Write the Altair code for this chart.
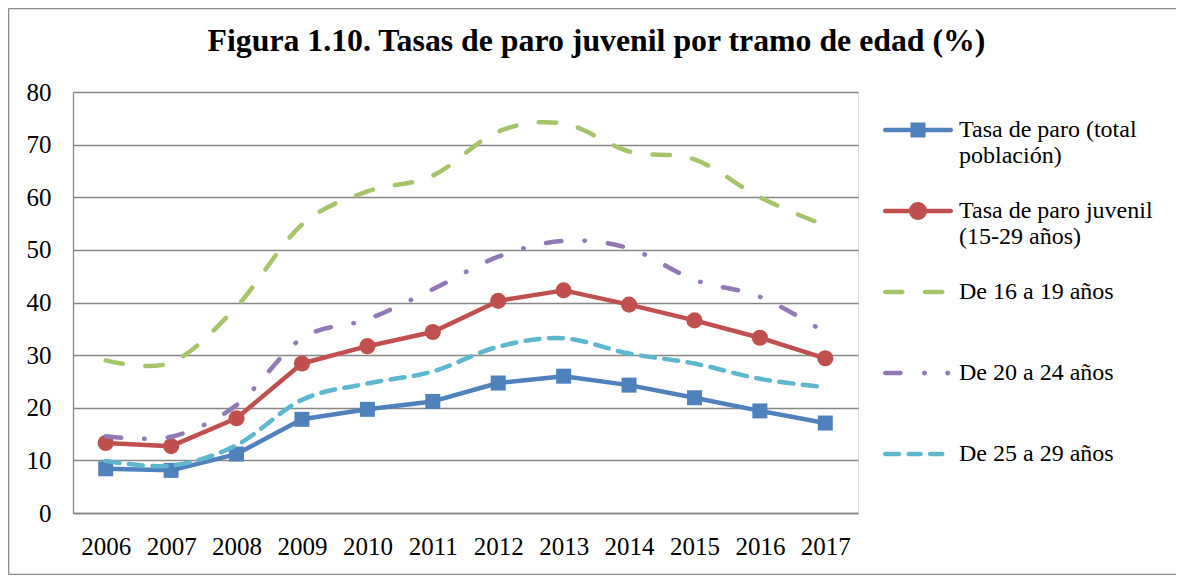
import altair as alt
import pandas as pd

years = [str(y) for y in range(2006, 2018)]
series = [
    "Tasa de paro (total población)",
    "Tasa de paro juvenil (15-29 años)",
    "De 16 a 19 años",
    "De 20 a 24 años",
    "De 25 a 29 años",
]
total = [8.4, 8.1, 11.2, 17.8, 19.7, 21.2, 24.7, 26.0, 24.3, 21.9, 19.4, 17.1]
juvenil = [13.3, 12.7, 18.0, 28.4, 31.7, 34.4, 40.3, 42.3, 39.6, 36.6, 33.3, 29.4]
g16_19 = [29.0, 28.6, 39.2, 54.8, 61.1, 64.1, 72.5, 74.0, 68.7, 67.2, 60.0, 54.6]
g20_24 = [14.6, 14.5, 20.5, 33.2, 36.8, 42.5, 48.7, 51.7, 50.3, 44.3, 41.1, 34.3]
g25_29 = [9.9, 9.0, 12.9, 21.5, 24.6, 26.9, 31.6, 33.2, 30.3, 28.4, 25.5, 23.9]
colors = ["#4F81BD", "#C0504D", "#A6C46A", "#9179B5", "#5DB7CF"]

rows = []
for name, vals in zip(series, [total, juvenil, g16_19, g20_24, g25_29]):
    for yr, v in zip(years, vals):
        rows.append({"year": yr, "series": name, "value": v})
df = pd.DataFrame(rows)

FONT = "Liberation Serif"
GRID = "#878787"

# legend symbol paths (unit = half symbol width)
T = 0.064


def capsule(x0, x1, t=T):
    return (f"M {x0+t} {-t} L {x1-t} {-t} A {t} {t} 0 0 1 {x1-t} {t} "
            f"L {x0+t} {t} A {t} {t} 0 0 1 {x0+t} {-t} Z ")


def circ(cx, r):
    return f"M {cx-r} 0 A {r} {r} 0 1 1 {cx+r} 0 A {r} {r} 0 1 1 {cx-r} 0 Z "


def square(s):
    return f"M {-s} {-s} L {s} {-s} L {s} {s} L {-s} {s} Z "


paths = [
    capsule(-1, 1) + square(0.214),
    capsule(-1, 1) + circ(0, 0.257),
    capsule(-1.0, -0.386) + capsule(0.137, 0.757),
    capsule(-1.0, -0.436) + circ(0.186, 0.07) + circ(0.85, 0.07),
    capsule(-1.0, -0.476) + capsule(-0.33, 0.137) + capsule(0.28, 0.757),
]

x_enc = alt.X(
    "year:O",
    scale=alt.Scale(type="point", padding=0.5),
    axis=alt.Axis(
        title=None, labelAngle=0, ticks=False, domainColor=GRID, domainWidth=1.3,
        labelFont=FONT, labelFontSize=25, labelColor="black", labelPadding=21,
    ),
)
y_enc = alt.Y(
    "value:Q",
    scale=alt.Scale(domain=[0, 80], nice=False),
    axis=alt.Axis(
        title=None, values=list(range(0, 81, 10)), ticks=False, grid=True,
        gridColor=GRID, gridWidth=1.3, domainColor=GRID, domainWidth=1.3,
        labelFont=FONT, labelFontSize=25, labelColor="black", labelPadding=22,
    ),
)


def col(legend=None):
    if legend is None:
        return alt.Color("series:N", scale=alt.Scale(domain=series, range=colors), legend=None)
    return alt.Color("series:N", scale=alt.Scale(domain=series, range=colors), legend=legend)


base = alt.Chart(df)

solid = base.transform_filter(
    alt.FieldOneOfPredicate(field="series", oneOf=series[:2])
).mark_line(strokeWidth=4.5, strokeCap="round", strokeJoin="round").encode(
    x=x_enc, y=y_enc, color=col(), detail="series:N",
)

sq = base.transform_filter(alt.datum.series == series[0]).mark_point(
    shape="square", size=225, filled=True, opacity=1
).encode(x=x_enc, y=y_enc, color=col())

ci = base.transform_filter(alt.datum.series == series[1]).mark_point(
    shape="circle", size=260, filled=True, opacity=1
).encode(x=x_enc, y=y_enc, color=col())

dashed = base.transform_filter(
    alt.FieldOneOfPredicate(field="series", oneOf=series[2:])
).mark_line(strokeWidth=4.5, strokeCap="round", interpolate="cardinal").encode(
    x=x_enc, y=y_enc, color=col(),
    strokeDash=alt.StrokeDash(
        "series:N",
        scale=alt.Scale(domain=series[2:], range=[[17.5, 22.5], [15.5, 23, 0.5, 23], [14, 9.5]]),
        legend=None,
    ),
)

label_expr = (
    f"datum.label == '{series[0]}' ? ['Tasa de paro (total', 'población)'] : "
    f"datum.label == '{series[1]}' ? ['Tasa de paro juvenil', '(15-29 años)'] : [datum.label, ' ']"
)
leg = alt.Legend(
    title=None, orient="none", legendX=810, legendY=3, padding=0,
    symbolSize=4900, symbolStrokeWidth=0, rowPadding=8,
    labelFont=FONT, labelFontSize=24, labelColor="black", labelOffset=6,
    labelLimit=400, labelBaseline="middle", labelExpr=label_expr,
)
legend_layer = base.transform_filter("false").mark_point(filled=True, opacity=1).encode(
    x=x_enc, y=y_enc,
    color=col(leg),
    shape=alt.Shape("series:N", scale=alt.Scale(domain=series, range=paths), legend=leg),
)

fdata = pd.DataFrame({"a": [0]})
frame_top = alt.Chart(fdata).mark_rule(color="#8c8c8c", strokeWidth=1.5).encode(
    x=alt.value(-64.5), x2=alt.value(1103), y=alt.value(-83.5))
frame_left = alt.Chart(fdata).mark_rule(color="#8c8c8c", strokeWidth=1.5).encode(
    x=alt.value(-64.5), y=alt.value(-83.5), y2=alt.value(482.5))
frame_bottom = alt.Chart(fdata).mark_rule(color="#8c8c8c", strokeWidth=1.5).encode(
    x=alt.value(-64.5), x2=alt.value(1103), y=alt.value(482.5))

chart = alt.layer(
    frame_top, frame_left, frame_bottom, solid, sq, ci, dashed, legend_layer
).resolve_scale(
    color="independent", shape="independent", strokeDash="independent"
).properties(
    width=785, height=421,
    padding={"left": 65, "top": 84, "right": 318, "bottom": 62},
    autosize=alt.AutoSizeParams(type="none"),
    title=alt.TitleParams(
        "Figura 1.10. Tasas de paro juvenil por tramo de edad (%)",
        font=FONT, fontSize=31.8, fontWeight="bold", color="black",
        anchor="middle", dx=131, baseline="alphabetic", offset=-75,
    ),
).configure_view(strokeWidth=0).configure(background="white")

chart.save("out.html", embed_options={"renderer": "svg", "actions": False})
